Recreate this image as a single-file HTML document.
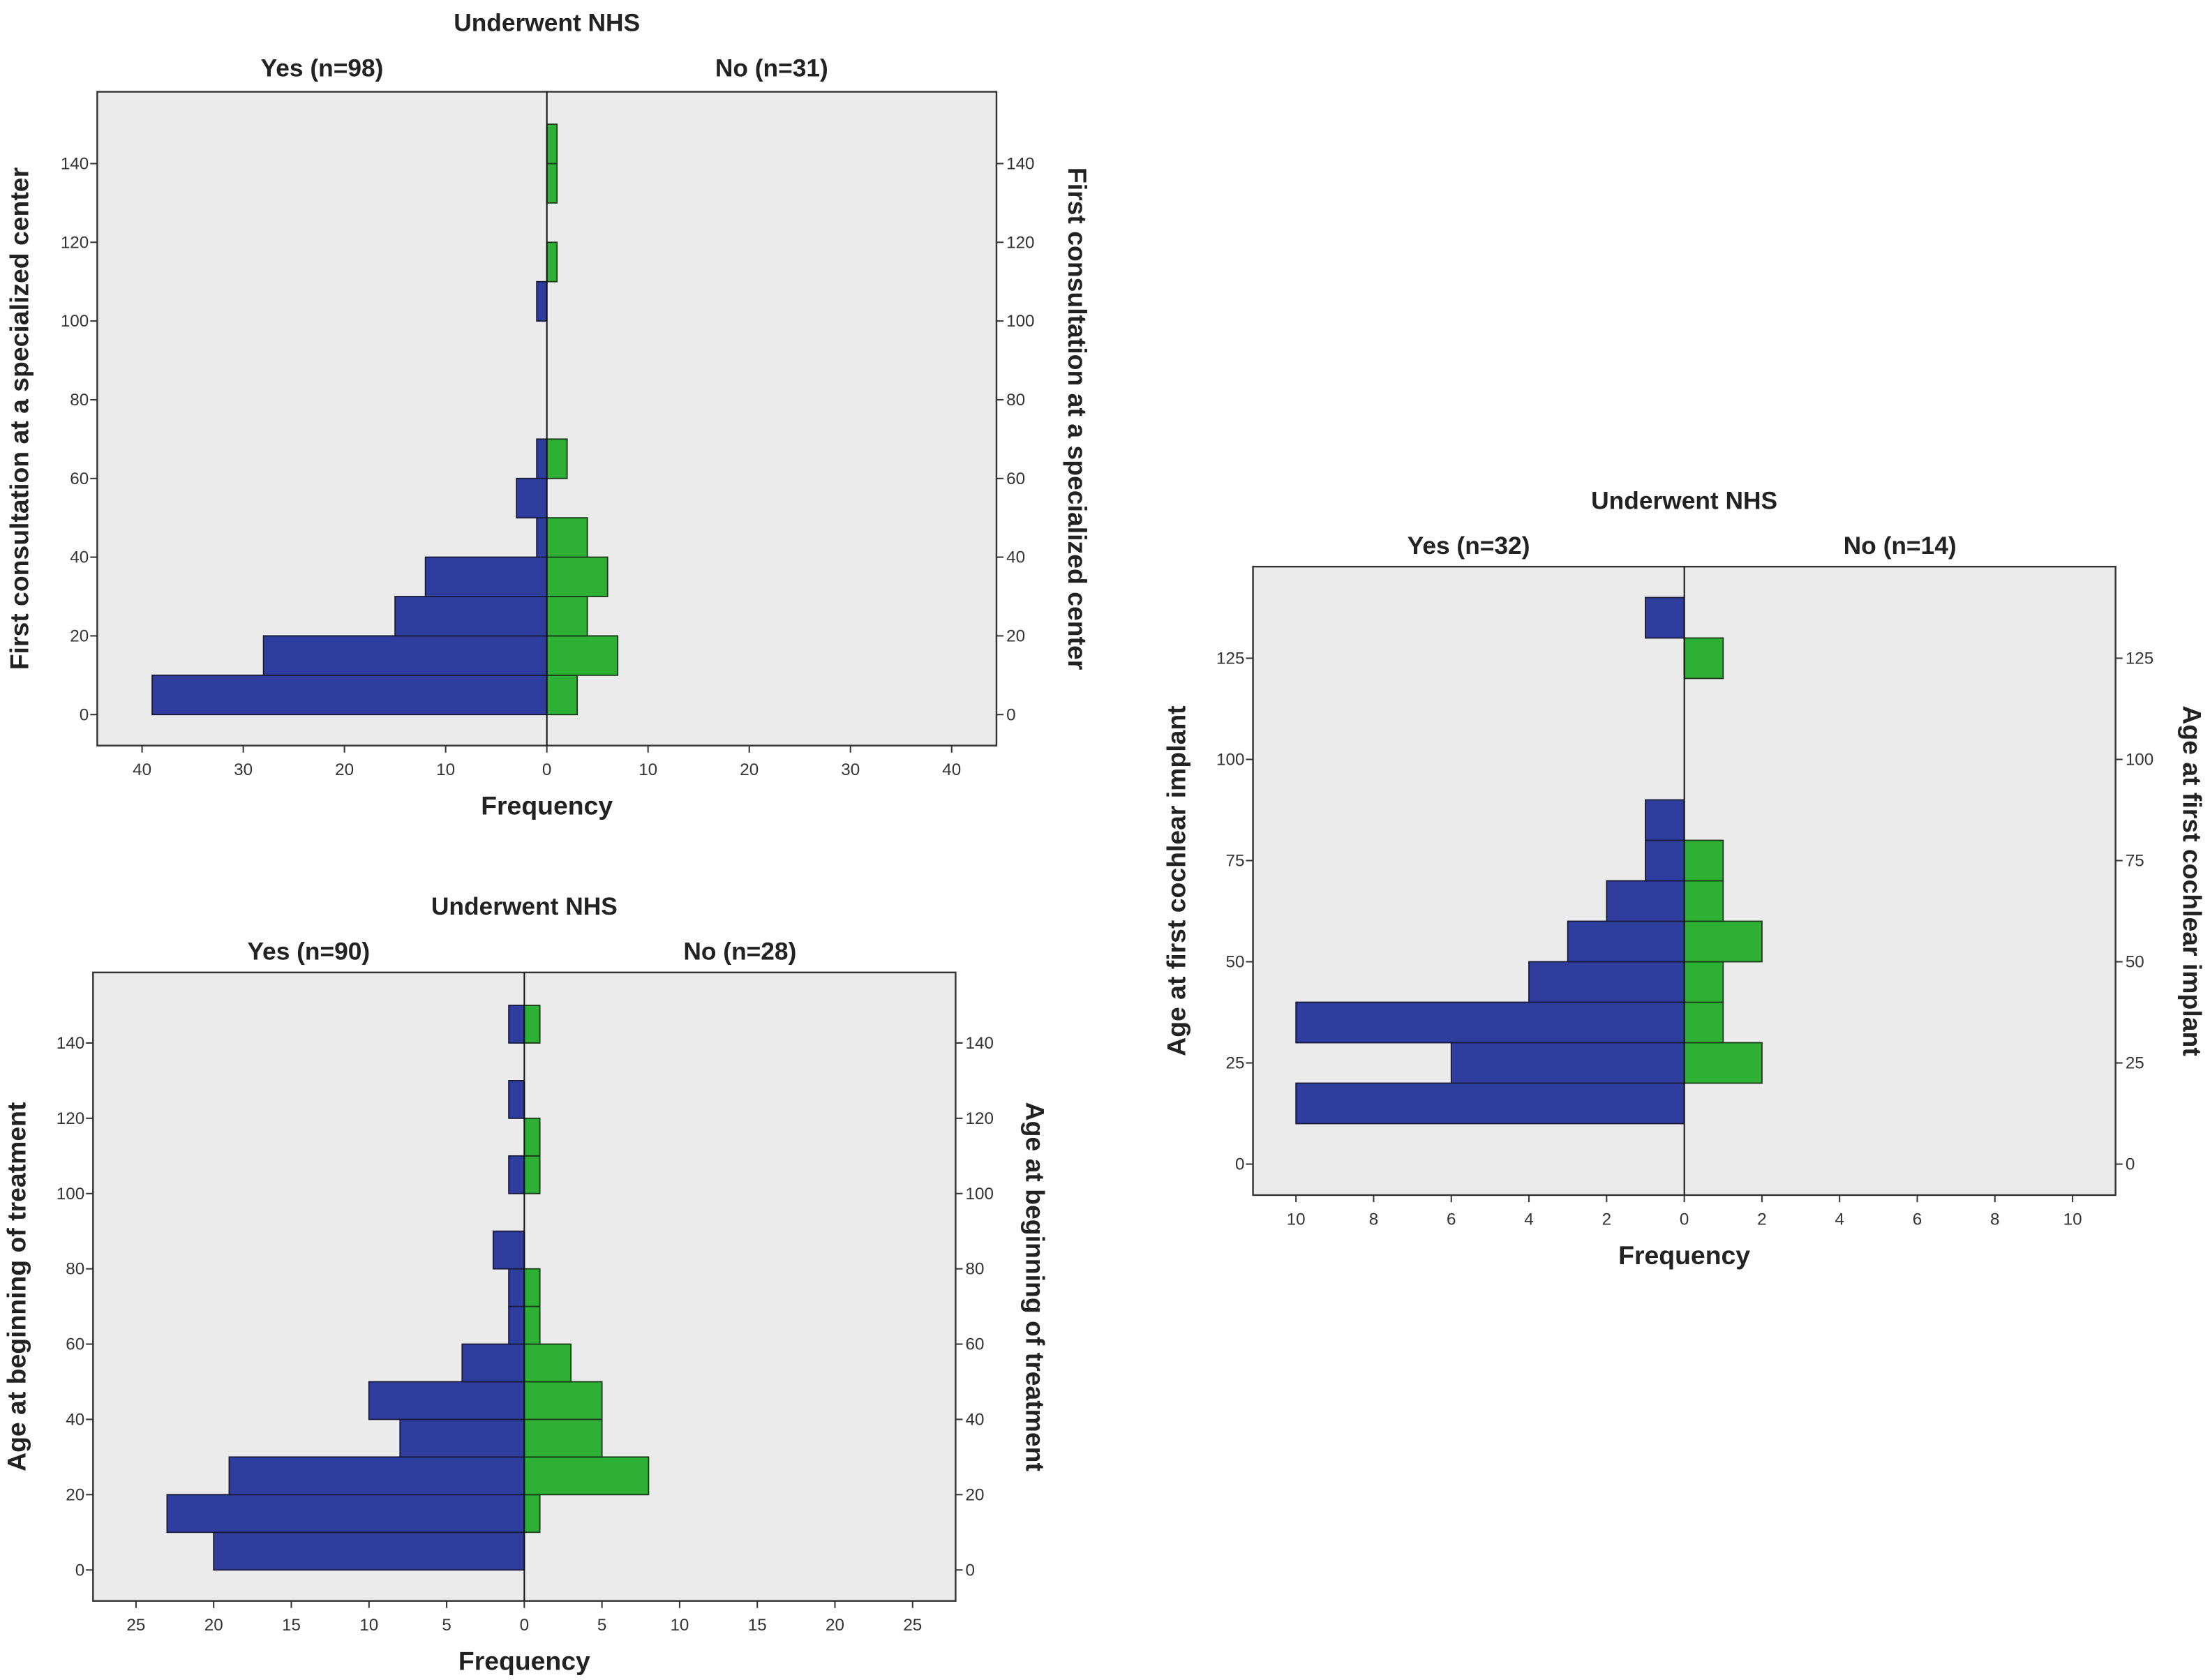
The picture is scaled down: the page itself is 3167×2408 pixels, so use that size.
<!DOCTYPE html>
<html><head><meta charset="utf-8"><style>
html,body{margin:0;padding:0;background:#fff;}
svg{display:block;font-family:"Liberation Sans",sans-serif;}
.t{font-size:17.5px;font-weight:bold;fill:#222;}
.tk{font-size:12px;fill:#333;}
.at{font-size:18.5px;font-weight:bold;fill:#222;}
</style></head><body>
<svg id="fig" width="3167" height="2408" viewBox="0 0 1568 1192" xmlns="http://www.w3.org/2000/svg">
<rect width="1568" height="1192" fill="#fff"/>
</svg>
<script>
// Chart 1: First consultation
const c1Bins = [0,10,20,30,40,50,60,70,80,90,100,110,120,130,140];
const c1Yes = [39,28,15,12,1,3,1,0,0,0,1,0,0,0,0];
const c1No = [3,7,4,6,4,0,2,0,0,0,0,1,0,1,1];
const c1XTicks = [40,30,20,10,0,10,20,30,40];
const c1YTicks = [0,20,40,60,80,100,120,140];
// Chart 2: Age at first cochlear implant
const c2Bins = [0,10,20,30,40,50,60,70,80,90,100,110,120,130];
const c2Yes = [0,10,6,10,4,3,2,1,1,0,0,0,0,1];
const c2No = [0,0,2,1,1,2,1,1,0,0,0,0,1,0];
const c2XTicks = [10,8,6,4,2,0,2,4,6,8,10];
const c2YTicks = [0,25,50,75,100,125];
// Chart 3: Age at beginning of treatment
const c3Bins = [0,10,20,30,40,50,60,70,80,90,100,110,120,130,140];
const c3Yes = [20,23,19,8,10,4,1,1,2,0,1,0,1,0,1];
const c3No = [0,1,8,5,5,3,1,1,0,0,1,1,0,0,1];
const c3XTicks = [25,20,15,10,5,0,5,10,15,20,25];
const c3YTicks = [0,20,40,60,80,100,120,140];

const NS="http://www.w3.org/2000/svg";
const svg=document.getElementById('fig');
function mk(tag,attrs,parent){const e=document.createElementNS(NS,tag);for(const k in attrs)e.setAttribute(k,attrs[k]);(parent||svg).appendChild(e);return e;}
function txt(s,attrs,parent){const e=mk('text',attrs,parent);e.textContent=s;return e;}

function chart(cfg){
  const g=mk('g',{});
  
  
  const {x0,x1,y0,y1,zx,ux,zy,uy}=cfg;
  const X=v=>zx+v*ux, Y=v=>zy-v*uy;
  const bg=mk('rect',{x:x0,y:y0,width:x1-x0,height:y1-y0,fill:'#ebebeb',stroke:'#333','stroke-width':1.2},g);
  
  
  const bw=cfg.bins[1]-cfg.bins[0];
  cfg.bins.forEach((b,i)=>{
    if(cfg.yes[i]>0){
      const r=mk('rect',{x:X(-cfg.yes[i]),y:Y(b+bw),width:cfg.yes[i]*ux,height:bw*uy,fill:'#2f3e9e',stroke:'#1a1a3a','stroke-width':0.9},g);
      
      
    }
    if(cfg.no[i]>0){
      const r=mk('rect',{x:X(0),y:Y(b+bw),width:cfg.no[i]*ux,height:bw*uy,fill:'#2db034',stroke:'#1a3a1a','stroke-width':0.9},g);
      
      
    }
  });
  mk('line',{x1:zx,x2:zx,y1:y0,y2:y1,stroke:'#111','stroke-width':1},g);
  const n=cfg.xt.length, mid=(n-1)/2;
  cfg.xt.forEach((v,i)=>{
    const sv=i<mid?-v:v;
    const x=X(sv);
    mk('line',{x1:x,x2:x,y1:y1,y2:y1+5,stroke:'#333'},g);
    const t=txt(String(v),{x:x,y:y1+21,'text-anchor':'middle',class:'tk'},g);
    
    
  });
  cfg.yt.forEach(v=>{
    const y=Y(v);
    mk('line',{x1:x0-5,x2:x0,y1:y,y2:y,stroke:'#333'},g);
    mk('line',{x1:x1,x2:x1+5,y1:y,y2:y,stroke:'#333'},g);
    const t=txt(String(v),{x:x0-6,y:y+4,'text-anchor':'end',class:'tk'},g);
    
    
    const t2=txt(String(v),{x:x1+7,y:y+4,'text-anchor':'start',class:'tk'},g);
    
    
  });
  const ti=txt('Underwent NHS',{x:zx,y:cfg.ty,'text-anchor':'middle',class:'t'},g);
  
  
  const ly=txt(cfg.yesLabel,{x:(x0+zx)/2,y:cfg.ty+32,'text-anchor':'middle',class:'t'},g);
  
  
  const ln=txt(cfg.noLabel,{x:(zx+x1)/2,y:cfg.ty+32,'text-anchor':'middle',class:'t'},g);
  
  
  const fx=txt('Frequency',{x:zx,y:y1+49,'text-anchor':'middle',class:'at'},g);
  
  
  const cy=(y0+y1)/2;
  const la=txt(cfg.ytitle,{x:0,y:0,'text-anchor':'middle',class:'at',transform:`translate(${cfg.lx},${cy}) rotate(-90)`},g);
  
  
  const ra=txt(cfg.ytitle,{x:0,y:0,'text-anchor':'middle',class:'at',transform:`translate(${cfg.rx},${cy}) rotate(90)`},g);
  
  
}
chart({name:'chart-first-consultation',bins:c1Bins,yes:c1Yes,no:c1No,xt:c1XTicks,yt:c1YTicks,
  x0:69,x1:707,y0:65,y1:529,zx:388,ux:7.18,zy:507,uy:2.793,ty:22,
  yesLabel:'Yes (n=98)',noLabel:'No (n=31)',ytitle:'First consultation at a specialized center',lx:20,rx:758});
chart({name:'chart-cochlear-implant',bins:c2Bins,yes:c2Yes,no:c2No,xt:c2XTicks,yt:c2YTicks,
  x0:889,x1:1501,y0:402,y1:848,zx:1195,ux:27.55,zy:826,uy:2.872,ty:361,
  yesLabel:'Yes (n=32)',noLabel:'No (n=14)',ytitle:'Age at first cochlear implant',lx:841,rx:1549});
chart({name:'chart-beginning-treatment',bins:c3Bins,yes:c3Yes,no:c3No,xt:c3XTicks,yt:c3YTicks,
  x0:66,x1:678,y0:690,y1:1136,zx:372,ux:11.02,zy:1114,uy:2.671,ty:649,
  yesLabel:'Yes (n=90)',noLabel:'No (n=28)',ytitle:'Age at beginning of treatment',lx:18,rx:728});
</script>
</body></html>
